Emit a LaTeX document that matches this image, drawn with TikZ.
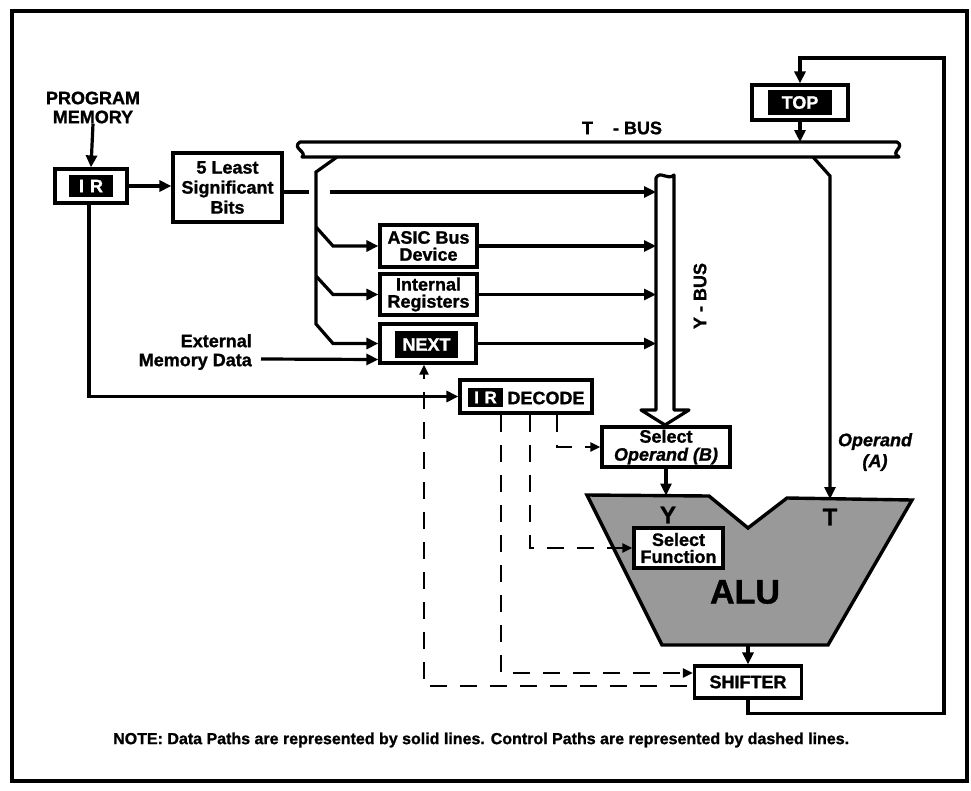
\documentclass[tikz,border=0pt]{standalone}
\usepackage{fontspec}
\setmainfont{Liberation Sans}[BoldFeatures={FakeBold=1.2},BoldItalicFeatures={FakeBold=1.2}]
\usetikzlibrary{arrows.meta,calc}
\newcommand\lab{\fontsize{18pt}{17pt}\selectfont\bfseries}
\newcommand\fs[2]{\fontsize{#1pt}{#2pt}\selectfont\bfseries}
\begin{document}
\begin{tikzpicture}[x=1pt,y=-1pt,
  box/.style={draw, line width=3.2pt, fill=white, inner sep=0pt, align=center, font=\lab},
  blk/.style={fill=black, text=white, inner sep=0pt, font=\lab},
  conn/.style={line width=3.2pt},
  arr/.style={conn, -{Triangle[length=12pt,width=11pt]}},
  darr/.style={line width=2.6pt, dash pattern=on 17pt off 13pt, -{Triangle[length=10pt,width=9pt]}},
  lbl/.style={font=\lab, inner sep=0pt, align=center},
  bus/.style={line width=3.2pt, fill=white, line join=round},
  alu/.style={line width=3.4pt, fill=black!40, line join=miter}]
\useasboundingbox (0,0) rectangle (971,790);
% frame
\draw[line width=3.2pt] (12,11) rectangle (967,781);

% ALU (background shape)
\draw[alu] (587,495) -- (709,496) -- (748,528) -- (787,498) -- (912,500) -- (828,645) -- (662,645) -- cycle;
\coordinate (aluY) at (666,495.5);
\coordinate (aluT) at (830,499);
\coordinate (aluB) at (748,645);
\node[font=\fs{24}{24}] at (668,515) {Y};
\node[font=\fs{24}{24}] at (830,517) {T};
\node[font=\fs{34}{34}] (alulab) at (745,592) {ALU};

% T-bus
\draw[bus] (300,142) -- (897,142) .. controls (906,147) and (889,152) .. (899,157) -- (302,157) .. controls (308,152) and (291,148) .. cycle;
\node[lbl] (tbuslab) at (622,128) {T\hspace{20pt}- BUS};
\coordinate (tbt) at (0,142);
\coordinate (tbl) at (337,157);
\coordinate (tbr) at (813,157);

% Y-bus
\draw[bus] (641,410) -- (656,410) -- (656,178) .. controls (660,170) and (668,181) .. (674,175) -- (674,410) -- (689,410) -- (665,425) -- cycle;
\coordinate (ybl) at (656,0);
\node[lbl, rotate=90] (ybuslab) at (700,296) {Y - BUS};

% left column
\node[lbl, font=\fs{18}{19}] (pm) at (93,107.5) {PROGRAM\\MEMORY};
\node[box, minimum width=72pt, minimum height=34pt] (ir) at (91,186) {};
\node[blk, minimum width=44pt, minimum height=22pt] (irl) at (ir) {I\,\,R};
\node[box, minimum width=109pt, minimum height=69pt, font=\fs{18}{20}] (lsb) at (227.5,187.5) {5 Least\\Significant\\Bits};

% register column
\node[box, minimum width=97pt, minimum height=42pt, font=\fs{18}{17}] (asic) at (428.5,246) {ASIC Bus\\Device};
\node[box, minimum width=97pt, minimum height=41pt, font=\fs{18}{17}] (intr) at (428.5,294.5) {Internal\\Registers};
\node[box, minimum width=96pt, minimum height=39pt] (next) at (428,343.5) {};
\node[blk, minimum width=63pt, minimum height=27pt] (nextl) at (426.5,344.5) {NEXT};
\node[lbl, align=right, anchor=east, font=\fs{18}{19}] (ext) at (252,352) {External\\Memory Data};

% decode
\node[box, minimum width=132pt, minimum height=33pt] (dec) at (526,396.5) {};
\node[blk, minimum width=35pt, minimum height=19pt, font=\fs{17}{17}] (decir) at (485.5,397.5) {I\,\,R};
\node[lbl] (declab) at (546,398) {DECODE};

% TOP
\node[box, minimum width=96pt, minimum height=35pt] (top) at (800,102.5) {};
\node[blk, minimum width=64pt, minimum height=25pt] (topl) at (top) {TOP};

% select operand / function / shifter
\node[box, minimum width=128pt, minimum height=40pt, font=\fs{18}{18}] (selop) at (666,447) {Select\\{\itshape Operand (B)}};
\node[box, minimum width=89pt, minimum height=40pt, font=\fs{18}{17}] (selfn) at (678.5,548) {Select\\Function};
\node[box, minimum width=107pt, minimum height=32pt] (shf) at (748,682) {SHIFTER};
\node[lbl, font=\fs{18}{21}\itshape] (opa) at (875,452) {Operand\\(A)};

% data paths
\draw[arr] (pm.south) -- (ir.north);
\draw[arr] (ir.east) -- (ir.east -| lsb.west);
\coordinate (lsbo) at ([yshift=-4.5pt]lsb.east);
\draw[conn] (lsbo) -- ++(25,0);
\draw[arr] ([xshift=46pt]lsbo) -- (lsbo -| ybl);
\draw[arr] (tbl) -- (316,172) -- (316,324) -- (333,343.5) -- (next.west);
\draw[arr] (316,227) -- (333,246) -- (asic.west);
\draw[arr] (316,276) -- (333,294.5) -- (intr.west);
\draw[arr] (asic.east) -- (asic.east -| ybl);
\draw[arr] (intr.east) -- (intr.east -| ybl);
\draw[arr] (next.east) -- (next.east -| ybl);
\draw[arr] ([xshift=9pt,yshift=-7pt]ext.east) -- ([yshift=-16pt]next.west);
\draw[arr] ([xshift=-2pt]ir.south) |- (dec.west);
\draw[arr] (top.south) -- (top.south |- tbt);
\draw[arr] (shf.south) -- ++(0,14) -| (944,58) -| (top.north);
\draw[arr] (tbr) -- (830,176) -- (aluT);
\draw[arr] (selop.south) -- (aluY);
\draw[arr] (aluB) -- (shf.north);

% control paths
\draw[darr] ([xshift=-6pt,yshift=-4pt]shf.west) -| ([xshift=-4pt]next.south);
\draw[darr] ([xshift=-25pt]dec.south) |- ([yshift=9pt]shf.west);
\draw[darr] ([xshift=4pt]dec.south) |- (selfn.west);
\draw[darr] ([xshift=31pt]dec.south) |- (selop.west);

% note
\node[lbl, anchor=west, font=\fs{16}{16}] (note) at (113,740) {NOTE: Data Paths are represented by solid lines. Control Paths are represented by dashed lines.};
\end{tikzpicture}
\end{document}
